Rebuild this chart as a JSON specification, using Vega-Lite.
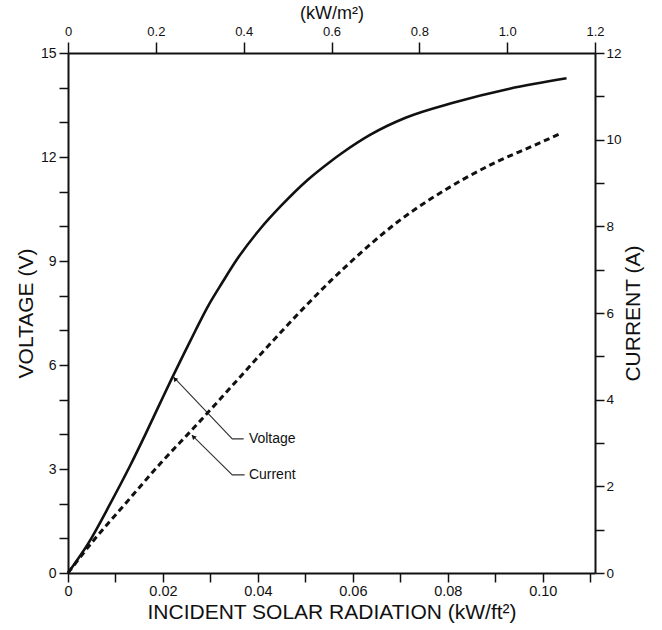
{
  "$schema": "https://vega.github.io/schema/vega-lite/v6.json",
  "width": 527,
  "height": 520,
  "autosize": {"type": "none"},
  "padding": {"left": 68, "right": 67, "top": 53, "bottom": 57},
  "background": "white",
  "config": {
    "view": {"stroke": null},
    "font": "Liberation Sans",
    "axis": {
      "domainColor": "#111",
      "domainWidth": 2,
      "tickColor": "#111",
      "tickWidth": 1.5,
      "tickSize": 9,
      "grid": false,
      "labelColor": "#111",
      "titleColor": "#111",
      "labelFont": "Liberation Sans",
      "titleFont": "Liberation Sans",
      "titleFontWeight": "normal",
      "labelOverlap": false,
      "labelFlush": false
    }
  },
  "datasets": {
    "voltage": [
      {"rad": 0, "volts": 0},
      {"rad": 0.0043, "volts": 0.86},
      {"rad": 0.0089, "volts": 2.0},
      {"rad": 0.0131, "volts": 3.1},
      {"rad": 0.0163, "volts": 4.0},
      {"rad": 0.0194, "volts": 4.9},
      {"rad": 0.0219, "volts": 5.62},
      {"rad": 0.0244, "volts": 6.32},
      {"rad": 0.0268, "volts": 6.98},
      {"rad": 0.0293, "volts": 7.65},
      {"rad": 0.0325, "volts": 8.38},
      {"rad": 0.0356, "volts": 9.05},
      {"rad": 0.0405, "volts": 9.93},
      {"rad": 0.0448, "volts": 10.58},
      {"rad": 0.0504, "volts": 11.33},
      {"rad": 0.0551, "volts": 11.85},
      {"rad": 0.0581, "volts": 12.15},
      {"rad": 0.0638, "volts": 12.65},
      {"rad": 0.0711, "volts": 13.13},
      {"rad": 0.0813, "volts": 13.57},
      {"rad": 0.093, "volts": 13.97},
      {"rad": 0.105, "volts": 14.27}
    ],
    "current": [
      {"rad": 0, "amps": 0},
      {"rad": 0.0053, "amps": 0.74},
      {"rad": 0.0124, "amps": 1.64},
      {"rad": 0.0194, "amps": 2.52},
      {"rad": 0.0265, "amps": 3.35},
      {"rad": 0.0321, "amps": 4.02},
      {"rad": 0.0405, "amps": 5.04},
      {"rad": 0.0504, "amps": 6.2},
      {"rad": 0.0553, "amps": 6.74},
      {"rad": 0.0624, "amps": 7.46},
      {"rad": 0.0694, "amps": 8.1},
      {"rad": 0.0765, "amps": 8.64},
      {"rad": 0.0835, "amps": 9.1},
      {"rad": 0.0905, "amps": 9.5},
      {"rad": 0.0976, "amps": 9.84},
      {"rad": 0.1039, "amps": 10.15}
    ],
    "leaders": [
      {"g": "Voltage", "o": 1, "rad": 0.0222, "volts": 5.66},
      {"g": "Voltage", "o": 2, "rad": 0.0346, "volts": 3.87},
      {"g": "Voltage", "o": 3, "rad": 0.037, "volts": 3.87},
      {"g": "Current", "o": 1, "rad": 0.0261, "volts": 3.98},
      {"g": "Current", "o": 2, "rad": 0.0346, "volts": 2.83},
      {"g": "Current", "o": 3, "rad": 0.0372, "volts": 2.83}
    ],
    "labels": [
      {"label": "Voltage", "rad": 0.0381, "volts": 3.87},
      {"label": "Current", "rad": 0.0381, "volts": 2.83}
    ],
    "tips": [
      {"g": "Voltage", "rad": 0.0225, "volts": 5.6},
      {"g": "Current", "rad": 0.0264, "volts": 3.93}
    ],
    "topscale": [{"m": 0}, {"m": 1.2}]
  },
  "layer": [
    {
      "encoding": {
        "x": {
          "field": "rad",
          "type": "quantitative",
          "scale": {"domain": [0, 0.111], "nice": false, "zero": false},
          "axis": {
            "orient": "bottom",
            "values": [0, 0.01, 0.02, 0.03, 0.04, 0.05, 0.06, 0.07, 0.08, 0.09, 0.1, 0.11],
            "labelExpr": "datum.value == 0 ? '0' : (round(datum.value * 100) % 2 == 0 ? format(datum.value, '.2f') : '')",
            "labelFontSize": 14.5,
            "labelPadding": 2,
            "title": "INCIDENT SOLAR RADIATION (kW/ft²)",
            "titleFontSize": 21,
            "titlePadding": 4
          }
        },
        "y": {
          "field": "volts",
          "type": "quantitative",
          "scale": {"domain": [0, 15], "nice": false},
          "axis": {
            "orient": "left",
            "values": [0, 1, 2, 3, 4, 5, 6, 7, 8, 9, 10, 11, 12, 13, 14, 15],
            "labelExpr": "datum.value % 3 == 0 ? datum.label : ''",
            "labelFontSize": 14,
            "labelPadding": 3,
            "title": "VOLTAGE (V)",
            "titleFontSize": 21,
            "titlePadding": 4
          }
        }
      },
      "layer": [
        {
          "data": {"name": "voltage"},
          "mark": {"type": "line", "color": "#111", "strokeWidth": 2.6, "interpolate": "monotone"}
        },
        {
          "data": {"name": "leaders"},
          "mark": {"type": "line", "color": "#333", "strokeWidth": 1.1},
          "encoding": {
            "detail": {"field": "g"},
            "order": {"field": "o"}
          }
        },
        {
          "data": {"name": "tips"},
          "mark": {"type": "point", "shape": "triangle-up", "filled": true, "color": "#111", "size": 26, "angle": 316, "opacity": 1}
        },
        {
          "data": {"name": "labels"},
          "mark": {"type": "text", "align": "left", "baseline": "middle", "fontSize": 14, "color": "#111", "font": "Liberation Sans"},
          "encoding": {"text": {"field": "label"}}
        }
      ]
    },
    {
      "data": {"name": "current"},
      "mark": {"type": "line", "color": "#111", "strokeWidth": 3, "strokeDash": [6, 4], "interpolate": "monotone"},
      "encoding": {
        "x": {
          "field": "rad",
          "type": "quantitative",
          "scale": {"domain": [0, 0.111], "nice": false, "zero": false},
          "axis": null
        },
        "y": {
          "field": "amps",
          "type": "quantitative",
          "scale": {"domain": [0, 12], "nice": false},
          "axis": {
            "orient": "right",
            "values": [0, 1, 2, 3, 4, 5, 6, 7, 8, 9, 10, 11, 12],
            "labelExpr": "datum.value % 2 == 0 ? datum.label : ''",
            "labelFontSize": 13.5,
            "labelPadding": 2,
            "title": "CURRENT (A)",
            "titleAngle": 270,
            "titleFontSize": 21,
            "titlePadding": 22
          }
        }
      }
    },
    {
      "data": {"name": "topscale"},
      "mark": {"type": "rule", "strokeOpacity": 0},
      "encoding": {
        "x": {
          "field": "m",
          "type": "quantitative",
          "scale": {"domain": [0, 1.2], "nice": false, "zero": false},
          "axis": {
            "orient": "top",
            "values": [0, 0.2, 0.4, 0.6, 0.8, 1.0, 1.2],
            "labelExpr": "datum.value == 0 ? '0' : format(datum.value, '.1f')",
            "labelFontSize": 13,
            "labelPadding": 4,
            "tickSize": 11,
            "title": "(kW/m²)",
            "titleFontSize": 18,
            "titlePadding": 3
          }
        }
      }
    }
  ],
  "resolve": {"scale": {"x": "independent", "y": "independent"}}
}
